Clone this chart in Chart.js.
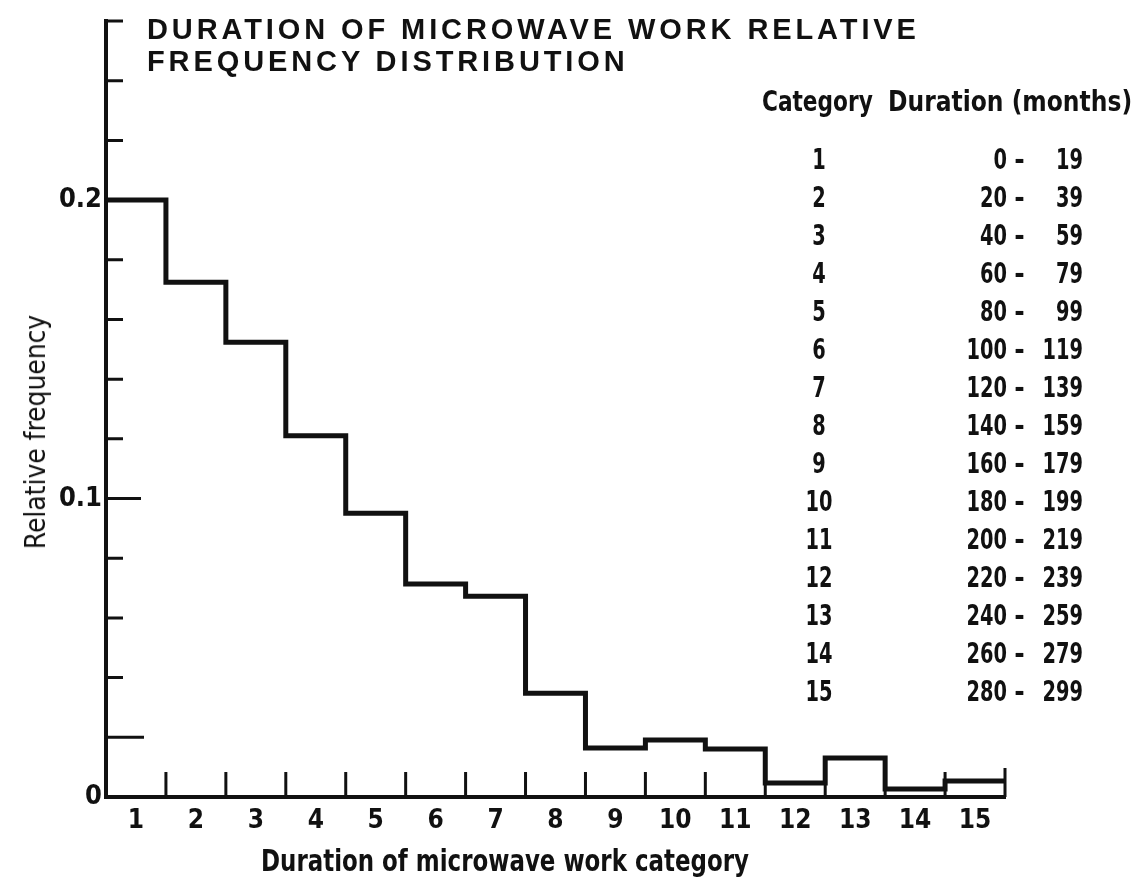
<!DOCTYPE html>
<html lang="en">
  <head>
    <meta charset="UTF-8" />
    <title>Duration of microwave work relative frequency distribution</title>
    <style>
      body { margin: 0; background: #fff; }
      #wrap { position: relative; width: 1142px; height: 878px; color: #111; }
      #wrap div, #wrap span { position: absolute; white-space: nowrap; }
      .narrow { font-family: "Liberation Sans Narrow", "DejaVu Sans Condensed", "Roboto Condensed", "Liberation Sans", sans-serif; }
      #title {
        left: 147px; top: 13px;
        font: bold 29px/32px "Liberation Sans", Arial, sans-serif;
        letter-spacing: 3.9px;
      }
      #ytitle { left: 35px; top: 432px; font-size: 29px; transform: translate(-50%, -50%) rotate(-90deg) scaleX(0.96); }
      #xtitle { left: 505px; top: 860px; font-size: 30px; font-weight: bold; transform: translate(-50%, -50%) scaleX(0.85); }
      #legend { left: 0; top: 0; font-size: 28px; line-height: 38px; font-weight: bold; }
      #legend .l { transform-origin: left center; }
      #legend .c { transform-origin: center center; text-align: center; }
      #legend .r { transform-origin: right center; text-align: right; }
    </style>
  </head>
  <body>
    <div id="wrap">
      <canvas id="myChart" width="1142" height="878"></canvas>
      <div id="title">DURATION OF MICROWAVE WORK RELATIVE<br />FREQUENCY DISTRIBUTION</div>
      <div id="ytitle" class="narrow">Relative frequency</div>
      <div id="xtitle" class="narrow">Duration of microwave work category</div>
      <div id="legend" class="narrow"></div>
    </div>

    <script src="https://cdn.jsdelivr.net/npm/chart.js"></script>
    <script>
      // categories and relative frequency
      const categories = [1, 2, 3, 4, 5, 6, 7, 8, 9, 10, 11, 12, 13, 14, 15];
      const relFreq = [0.200, 0.1725, 0.1524, 0.121, 0.0951, 0.0714, 0.0673, 0.0348,
                       0.0164, 0.0191, 0.0161, 0.0047, 0.0131, 0.0027, 0.0054];
      // duration ranges in months
      const durFrom = [0, 20, 40, 60, 80, 100, 120, 140, 160, 180, 200, 220, 240, 260, 280];
      const durTo = [19, 39, 59, 79, 99, 119, 139, 159, 179, 199, 219, 239, 259, 279, 299];
      // y axis
      const yLabelValues = [0, 0.1, 0.2];
      const yMarkValues = [0.02, 0.04, 0.06, 0.08, 0.1, 0.12, 0.14, 0.16, 0.18, 0.2, 0.22, 0.24, 0.26];

      const ink = "#111";
      const narrow = '"Liberation Sans Narrow", "DejaVu Sans Condensed", "Roboto Condensed", "Liberation Sans", sans-serif';

      // legend table on the right
      const legend = document.getElementById("legend");
      const sq = "transform:scaleX(0.77)";
      let html = '<span class="l" style="left:762px;top:83px;transform:scaleX(0.86)">Category</span>' +
                 '<span class="l" style="left:888px;top:83px;transform:scaleX(0.93)">Duration (months)</span>';
      categories.forEach((c, i) => {
        const top = 141 + i * 38;
        html += `<span class="c" style="left:789px;top:${top}px;width:60px;${sq}">${c}</span>` +
                `<span class="r" style="left:930px;top:${top}px;width:77px;${sq}">${durFrom[i]}</span>` +
                `<span class="c" style="left:1011px;top:${top}px;width:17px">-</span>` +
                `<span class="r" style="left:1030px;top:${top}px;width:53px;${sq}">${durTo[i]}</span>`;
      });
      legend.innerHTML = html;

      // step outline: each category holds its value from its left edge to its right edge
      const steps = categories.map((c, i) => ({ x: c - 0.5, y: relFreq[i] }));
      steps.push({ x: categories[categories.length - 1] + 0.5, y: relFreq[relFreq.length - 1] });

      // inward tick marks on both axes
      const tickMarks = {
        id: "tickMarks",
        afterDatasetsDraw(chart) {
          const { ctx, scales: { x, y } } = chart;
          ctx.save();
          ctx.strokeStyle = ink;
          ctx.lineWidth = 3;
          ctx.beginPath();
          yMarkValues.forEach((v) => {
            const py = y.getPixelForValue(v);
            let len = 17;
            if (Math.abs(v - 0.02) < 1e-6) len = 38;
            if (Math.abs(v - 0.1) < 1e-6) len = 35;
            ctx.moveTo(x.left - 2, py);
            ctx.lineTo(x.left + len, py);
          });
          categories.forEach((c, i) => {
            const px = x.getPixelForValue(c + 0.5);
            const len = i === categories.length - 1 ? 29 : 25;
            ctx.moveTo(px, y.bottom);
            ctx.lineTo(px, y.bottom - len);
          });
          ctx.stroke();
          ctx.restore();
        },
      };

      const chart = new Chart(document.getElementById("myChart"), {
        type: "line",
        data: {
          datasets: [
            {
              data: steps,
              stepped: true,
              borderColor: ink,
              borderWidth: 5,
              pointRadius: 0,
              fill: false,
            },
          ],
        },
        options: {
          responsive: false,
          animation: false,
          layout: { padding: { left: 0, top: 21, right: 137, bottom: 0 } },
          plugins: { legend: { display: false }, tooltip: { enabled: false } },
          scales: {
            x: {
              type: "linear",
              min: 0.5,
              max: 15.5,
              afterBuildTicks: (s) => { s.ticks = categories.map((v) => ({ value: v })); },
              afterFit: (s) => { s.height = 81; },
              ticks: { color: ink, padding: 9, maxRotation: 0, autoSkip: false,
                       font: { family: narrow, size: 26, weight: "bold" } },
              grid: { display: false, drawTicks: false },
              border: { display: true, width: 4, color: ink },
            },
            y: {
              min: 0,
              max: 0.26,
              afterBuildTicks: (s) => { s.ticks = yLabelValues.map((v) => ({ value: v })); },
              afterFit: (s) => { s.width = 106; },
              ticks: { color: ink, padding: 4,
                       callback: (v) => (v === 0 ? "0" : v.toFixed(1)),
                       font: { family: narrow, size: 27, weight: "bold" } },
              grid: { display: false, drawTicks: false },
              border: { display: true, width: 4, color: ink },
            },
          },
        },
        plugins: [tickMarks],
      });
    </script>
  </body>
</html>
